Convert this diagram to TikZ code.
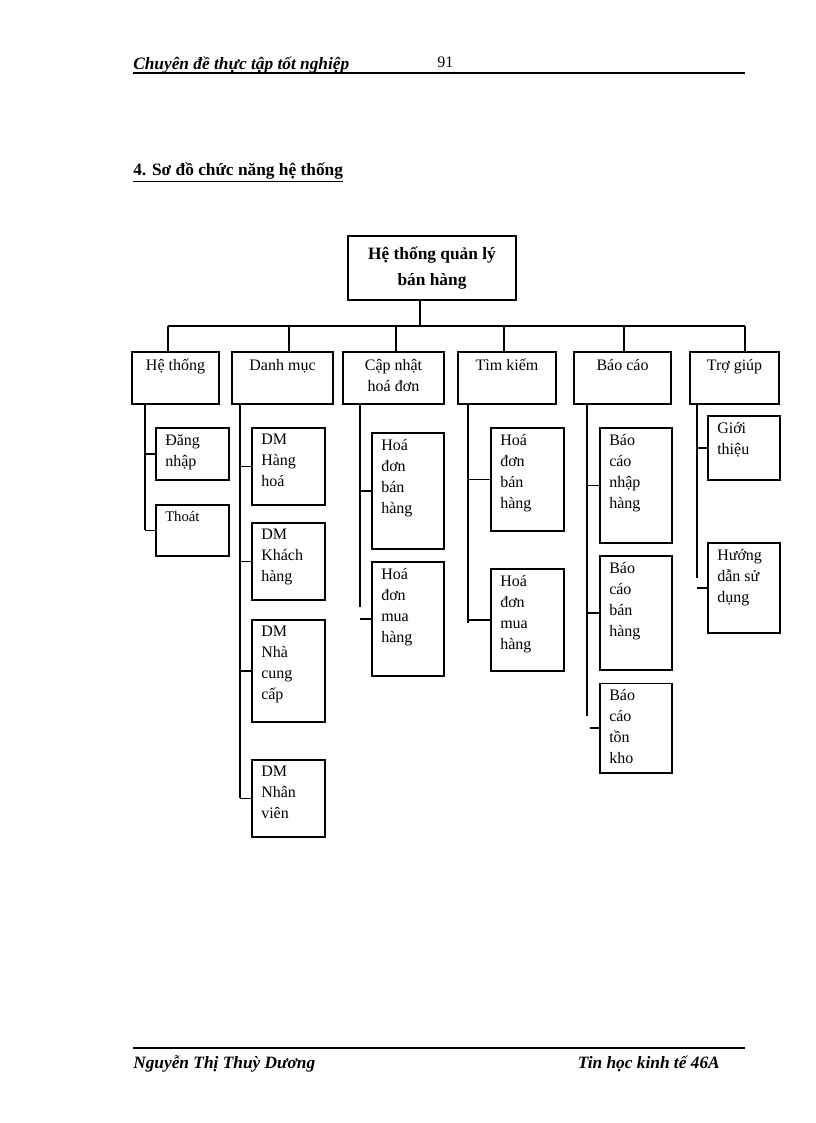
\documentclass[tikz,border=0pt]{standalone}
\usepackage{fontspec}
\setmainfont{Liberation Serif}
\begin{document}
\begin{tikzpicture}[x=0.75pt,y=-0.75pt,
  bx/.style={draw,line width=0.8pt},
  ln/.style={line width=0.8pt},
  tx/.style={anchor=north west,inner sep=0pt,align=left,font=\fontsize{12}{15.75}\selectfont}]
\useasboundingbox (0,0) rectangle (816,1123);
% header
\node[anchor=base west,inner sep=0pt,font=\fontsize{13}{15}\selectfont\bfseries\itshape] (h1) at (133,70) {Chuyên đề thực tập tốt nghiệp};
\node[anchor=base west,inner sep=0pt,font=\fontsize{12}{14}\selectfont] (h2) at (437,68) {91};
\draw[ln] (133,73) -- (745,73);
\node[anchor=base west,inner sep=0pt,font=\fontsize{13}{15}\selectfont\bfseries] (t) at (133,176) {\underline{4. Sơ đồ chức năng hệ thống}};
% root
\draw[bx] (348,236) rectangle (516,300);
\node[align=center,font=\fontsize{13}{19}\selectfont\bfseries] (root) at (432,268) {Hệ thống quản lý\\bán hàng};
\draw[ln] (420,300) -- (420,326);
\draw[ln] (168,326) -- (745,326);
\foreach \x in {168,289,396,504,624,745} \draw[ln] (\x,326) -- (\x,352);
% level 1
\newcommand{\lvl}[4]{\draw[bx] (#1,352) rectangle (#2,404);
  \node[align=center,anchor=north,inner sep=0pt,font=\fontsize{12}{15.75}\selectfont] (#4) at ({(#1+#2)/2},359) {#3};}
\lvl{132}{219}{Hệ thống}{a}
\lvl{232}{333}{Danh mục}{b}
\lvl{343}{444}{Cập nhật\\hoá đơn}{c}
\lvl{458}{556}{Tìm kiếm}{d}
\lvl{574}{671}{Báo cáo}{e}
\lvl{690}{779}{Trợ giúp}{f}
% children: spine x, box left, box right, top, bottom, text
\newcommand{\ch}[6]{\draw[bx] (#2,#4) rectangle (#3,#5);
  \draw[ln] (#1,{(#4+#5)/2}) -- (#2,{(#4+#5)/2});
  \node[tx] at (#2+9,#4+6) {#6};}
\draw[ln] (145,404) -- (145,530);
\ch{145}{156}{229}{428}{480}{Đăng\\nhập}
\ch{145}{156}{229}{505}{556}{\fontsize{11}{14}\selectfont Thoát}
\draw[ln] (240,404) -- (240,798);
\ch{240}{252}{325}{428}{505}{DM\\Hàng\\hoá}
\ch{240}{252}{325}{523}{600}{DM\\Khách\\hàng}
\ch{240}{252}{325}{620}{722}{DM\\Nhà\\cung\\cấp}
\ch{240}{252}{325}{760}{837}{DM\\Nhân\\viên}
\draw[ln] (360,404) -- (360,607);
\ch{360}{372}{444}{433}{549}{Hoá\\đơn\\bán\\hàng}
\ch{360}{372}{444}{562}{676}{Hoá\\đơn\\mua\\hàng}
\draw[ln] (468,404) -- (468,623);
\ch{468}{491}{564}{428}{531}{Hoá\\đơn\\bán\\hàng}
\ch{468}{491}{564}{569}{671}{Hoá\\đơn\\mua\\hàng}
\draw[ln] (587,404) -- (587,716);
\ch{587}{600}{672}{428}{543}{Báo\\cáo\\nhập\\hàng}
\ch{587}{600}{672}{556}{670}{Báo\\cáo\\bán\\hàng}
\begin{scope}
\clip (590,683) rectangle (680,773);
\ch{587}{600}{672}{683}{773}{Báo\\cáo\\tồn\\kho}
\end{scope}
\draw[ln] (697,404) -- (697,578);
\ch{697}{708}{780}{416}{480}{Giới\\thiệu}
\ch{697}{708}{780}{543}{633}{Hướng\\dẫn sử\\dụng}
% footer
\draw[ln] (133,1048) -- (745,1048);
\node[anchor=base west,inner sep=0pt,font=\fontsize{13}{15}\selectfont\bfseries\itshape] (f1) at (133,1068) {Nguyễn Thị Thuỳ Dương};
\node[anchor=base east,inner sep=0pt,font=\fontsize{13}{15}\selectfont\bfseries\itshape] (f2) at (720,1068) {Tin học kinh tế 46A};
\end{tikzpicture}
\end{document}
